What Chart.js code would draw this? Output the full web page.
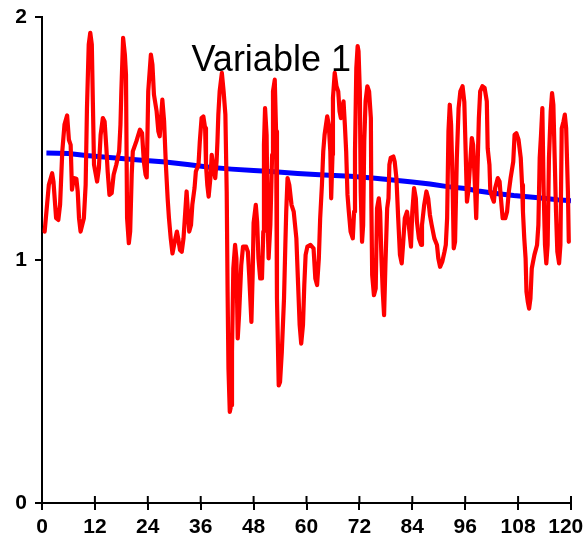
<!DOCTYPE html>
<html>
<head>
<meta charset="utf-8">
<script src="https://cdn.jsdelivr.net/npm/chart.js@4"></script>
<style>
html,body{margin:0;padding:0;background:#fff;}
#wrap{width:585px;height:547px;}
</style>
</head>
<body>
<div id="wrap"><canvas id="c" width="585" height="547"></canvas></div>
<script>
const titleText = "Variable 1";
const xTicks = [0,12,24,36,48,60,72,84,96,108,120];
const yTicks = [0,1,2];

const redX = [0.6,1.55,2.3,2.6,3.2,3.7,4.1,4.6,5.1,5.7,6.1,6.5,6.8,7.2,7.8,8.1,8.4,8.75,9.5,9.9,10.2,10.6,10.95,11.3,11.55,11.8,12.5,12.9,13.3,13.8,14.2,14.6,14.9,15.3,15.8,16.25,16.85,17.5,17.8,18.0,18.4,18.8,19.05,19.3,19.7,20.0,20.35,20.6,21.4,22.2,22.7,23.1,23.5,23.75,24.1,24.7,25.05,25.4,26.0,26.4,26.7,27.0,27.3,27.7,28.1,28.5,28.8,29.2,29.6,30.1,30.6,30.9,31.3,31.7,32.1,32.5,32.8,33.1,33.4,33.8,34.1,34.6,34.9,35.5,35.8,36.2,36.6,37.0,37.2,37.5,37.8,38.2,38.5,38.9,39.3,39.6,39.8,40.0,40.3,40.8,41.2,41.6,41.9,42.1,42.3,42.6,42.9,43.1,43.4,43.8,44.1,44.4,44.7,45.2,45.6,46.3,46.7,47.0,47.5,47.8,48.0,48.5,48.8,49.1,49.5,49.9,50.2,50.35,50.6,50.95,51.2,51.4,51.8,52.2,52.4,52.8,53.1,53.3,53.7,54.0,54.4,54.9,55.2,55.4,55.7,56.1,56.6,57.1,57.7,58.1,58.45,58.8,59.2,59.5,59.8,60.2,60.9,61.6,62.0,62.4,62.8,63.1,63.5,63.8,64.1,64.7,65.05,65.4,65.6,65.9,66.0,66.4,66.8,67.2,67.5,67.8,68.1,68.4,68.7,69.0,69.3,69.6,70.0,70.5,70.8,71.0,71.3,71.6,71.8,72.1,72.3,72.6,72.85,73.1,73.4,73.8,74.2,74.6,74.7,74.9,75.3,75.7,76.0,76.4,76.7,77.0,77.3,77.6,77.9,78.3,78.6,78.8,79.1,79.7,80.0,80.4,80.8,81.2,81.6,81.9,82.3,82.8,83.2,83.7,84.0,84.4,84.8,85.05,85.5,86.0,86.2,86.7,87.2,87.6,88.0,88.4,89.0,89.6,89.9,90.3,90.8,91.3,91.6,91.9,92.2,92.5,92.8,93.1,93.4,93.7,94.1,94.5,94.9,95.4,95.8,96.1,96.4,96.7,97.1,97.5,97.8,98.2,98.5,98.8,99.1,99.4,99.9,100.4,100.9,101.1,101.5,101.7,102.2,102.5,102.8,103.4,103.8,104.1,104.5,105.1,105.5,105.9,106.3,106.9,107.2,107.6,108.1,108.6,108.9,109.1,109.4,109.7,109.9,110.2,110.5,110.8,111.1,111.4,111.7,112.3,112.6,112.9,113.2,113.5,113.8,114.1,114.4,114.7,115.0,115.4,115.7,116.0,116.3,116.6,116.9,117.3,117.6,117.9,118.3,118.6,118.9,119.3,119.5];
const redY = [1.117,1.309,1.357,1.323,1.172,1.165,1.227,1.447,1.557,1.595,1.495,1.474,1.289,1.337,1.334,1.282,1.172,1.117,1.172,1.309,1.625,1.887,1.935,1.887,1.639,1.392,1.323,1.378,1.515,1.584,1.570,1.460,1.364,1.268,1.275,1.351,1.392,1.447,1.557,1.694,1.914,1.845,1.763,1.172,1.069,1.117,1.351,1.447,1.488,1.536,1.522,1.405,1.351,1.340,1.694,1.845,1.804,1.680,1.612,1.529,1.509,1.584,1.660,1.570,1.392,1.254,1.172,1.089,1.027,1.075,1.117,1.089,1.041,1.034,1.089,1.199,1.282,1.199,1.117,1.144,1.227,1.296,1.364,1.392,1.488,1.584,1.591,1.543,1.392,1.309,1.261,1.337,1.433,1.378,1.337,1.405,1.488,1.598,1.694,1.770,1.694,1.598,1.282,0.869,0.553,0.375,0.402,0.622,0.965,1.062,1.007,0.677,0.773,0.979,1.055,1.055,1.034,0.938,0.745,0.950,1.152,1.227,1.158,1.007,0.924,0.924,1.117,1.474,1.625,1.515,1.144,1.007,1.144,1.433,1.694,1.742,1.529,0.842,0.484,0.498,0.622,0.842,1.062,1.199,1.337,1.309,1.227,1.199,1.089,0.897,0.732,0.656,0.732,0.897,1.021,1.055,1.062,1.048,0.924,0.897,1.007,1.172,1.309,1.447,1.515,1.591,1.557,1.447,1.254,1.433,1.667,1.770,1.715,1.694,1.612,1.584,1.625,1.653,1.557,1.447,1.268,1.199,1.117,1.089,1.199,1.447,1.790,1.880,1.860,1.694,1.282,1.075,1.144,1.488,1.653,1.715,1.694,1.584,1.254,0.938,0.855,0.883,1.213,1.254,1.199,1.007,0.869,0.773,0.979,1.213,1.254,1.392,1.420,1.426,1.405,1.337,1.172,1.021,0.986,1.062,1.172,1.199,1.144,1.055,1.199,1.296,1.254,1.158,1.089,1.062,1.144,1.227,1.282,1.254,1.185,1.144,1.089,1.062,1.007,0.972,0.993,1.034,1.062,1.172,1.529,1.639,1.557,1.351,1.048,1.075,1.420,1.625,1.694,1.715,1.650,1.450,1.240,1.282,1.392,1.502,1.474,1.309,1.172,1.378,1.584,1.694,1.715,1.708,1.653,1.460,1.392,1.282,1.254,1.240,1.296,1.337,1.323,1.254,1.172,1.172,1.199,1.282,1.337,1.405,1.515,1.522,1.495,1.420,1.309,1.199,1.089,1.007,0.869,0.828,0.800,0.842,0.965,0.993,1.021,1.062,1.144,1.420,1.515,1.625,1.282,1.062,0.986,1.062,1.420,1.612,1.687,1.639,1.420,1.199,1.034,0.986,1.062,1.542,1.570,1.598,1.542,1.282,1.075];

const blueX = [1,6,10,16,22,28,33,38,43,48,52,58,64,70,75,79,84,88,92,96,99,103,107,112,117,120];
const blueY = [1.440,1.438,1.430,1.421,1.412,1.403,1.393,1.382,1.374,1.368,1.364,1.356,1.350,1.345,1.337,1.330,1.321,1.313,1.302,1.294,1.284,1.274,1.265,1.257,1.248,1.244];

const toPts = (xs, ys) => xs.map((x, i) => ({x: x, y: ys[i]}));
const FONT = "'Liberation Sans', Arial, sans-serif";

const innerTicks = {
  id: 'innerTicks',
  afterDraw(chart) {
    const ctx = chart.ctx;
    const xs = chart.scales.x;
    ctx.save();
    ctx.strokeStyle = '#000';
    ctx.lineWidth = 2;
    xs.ticks.forEach((t, i) => {
      const px = xs.getPixelForTick(i);
      ctx.beginPath();
      ctx.moveTo(px, xs.top);
      ctx.lineTo(px, xs.top - 7);
      ctx.stroke();
    });
    ctx.restore();
  }
};

const inPlotTitle = {
  id: 'inPlotTitle',
  afterDatasetsDraw(chart) {
    const ctx = chart.ctx;
    const xs = chart.scales.x;
    ctx.save();
    ctx.fillStyle = '#000';
    ctx.font = "36px " + FONT;
    ctx.textAlign = 'center';
    ctx.textBaseline = 'alphabetic';
    ctx.fillText(titleText, xs.getPixelForValue(52), 71);
    ctx.restore();
  }
};

new Chart(document.getElementById('c'), {
  type: 'scatter',
  data: {
    datasets: [
      {data: toPts(redX, redY), showLine: true, borderColor: '#ff0000', borderWidth: 4.2, pointRadius: 0, tension: 0, borderJoinStyle: 'round', borderCapStyle: 'round'},
      {data: toPts(blueX, blueY), showLine: true, borderColor: '#0000ff', borderWidth: 5, pointRadius: 0, tension: 0}
    ]
  },
  options: {
    responsive: false,
    animation: false,
    devicePixelRatio: 1,
    layout: {padding: {top: 17, right: 14, left: 0, bottom: 0}},
    plugins: {legend: {display: false}, tooltip: {enabled: false}, title: {display: false}},
    scales: {
      x: {
        type: 'linear', min: 0, max: 120,
        afterBuildTicks: s => { s.ticks = xTicks.map(v => ({value: v})); },
        afterFit: s => { s.height = 44; s.paddingLeft = 0; s.paddingRight = 0; },
        grid: {display: true, drawOnChartArea: false, tickLength: 7, color: '#000', lineWidth: 2},
        border: {display: true, color: '#000', width: 2},
        ticks: {
          color: '#000', padding: 5, maxRotation: 0, autoSkip: false,
          font: {family: FONT, weight: 'bold', size: 21},
          callback: (v) => v === 120 ? String(v) + '\u2002' : String(v)
        }
      },
      y: {
        type: 'linear', min: 0, max: 2,
        afterBuildTicks: s => { s.ticks = yTicks.map(v => ({value: v})); },
        afterFit: s => { s.width = 42; s.paddingTop = 0; s.paddingBottom = 0; },
        grid: {display: true, drawOnChartArea: false, tickLength: 7, color: '#000', lineWidth: 2},
        border: {display: true, color: '#000', width: 2},
        ticks: {color: '#000', padding: 8, font: {family: FONT, weight: 'bold', size: 21}}
      }
    }
  },
  plugins: [innerTicks, inPlotTitle]
});
</script>
</body>
</html>
